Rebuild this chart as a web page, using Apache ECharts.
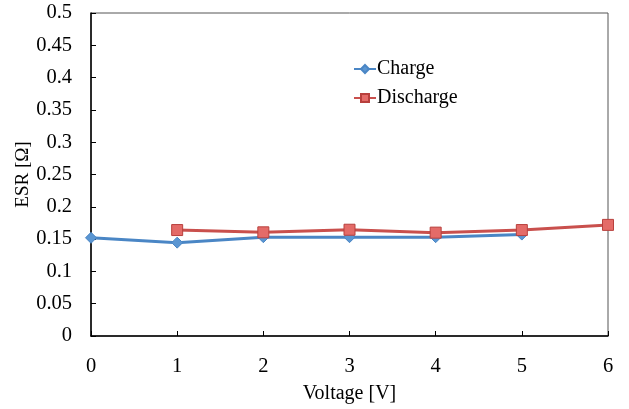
<!DOCTYPE html>
<html>
<head>
<meta charset="utf-8">
<script src="https://cdn.jsdelivr.net/npm/echarts@6/dist/echarts.min.js"></script>
<style>
  html, body { margin: 0; padding: 0; background: #fff; }
  #chart { width: 629px; height: 409px; }
</style>
</head>
<body>
<div id="chart"></div>
<script>
// ESR measured against cell voltage
const voltages = [0, 1, 2, 3, 4, 5, 6];
const chargeEsr = [0.152, 0.1445, 0.153, 0.153, 0.153, 0.157, null];
const dischargeEsr = [null, 0.164, 0.1605, 0.1645, 0.160, 0.164, 0.172];
const yTicks = [0, 0.05, 0.1, 0.15, 0.2, 0.25, 0.3, 0.35, 0.4, 0.45, 0.5];

const pairs = (ys) => voltages.map((x, i) => [x, ys[i]]).filter(p => p[1] !== null);

const font = '"Liberation Serif", "Times New Roman", serif';
const chart = echarts.init(document.getElementById('chart'), null, { renderer: 'canvas' });

chart.setOption({
  animation: false,
  backgroundColor: '#fff',
  textStyle: { fontFamily: font, color: '#000' },
  grid: {
    left: 91, right: 21, top: 13, bottom: 73,
    show: true, borderColor: '#555', borderWidth: 1
  },
  legend: {
    orient: 'vertical',
    left: 348, top: 54,
    itemWidth: 22, itemHeight: 10, itemGap: 9,
    textStyle: { fontFamily: font, fontSize: 20, color: '#000', padding: [0, 0, 0, -4] },
    data: ['Charge', 'Discharge']
  },
  xAxis: {
    type: 'value',
    min: 0, max: 6, interval: 1,
    name: 'Voltage [V]',
    nameLocation: 'middle',
    nameGap: 48,
    nameMoveOverlap: false,
    nameTextStyle: { fontFamily: font, fontSize: 20, color: '#000' },
    axisLine: { lineStyle: { color: '#000', width: 1.5 } },
    axisTick: { inside: true, length: 5, lineStyle: { color: '#000' } },
    axisLabel: { fontFamily: font, fontSize: 20.5, color: '#000', margin: 20 },
    splitLine: { show: false }
  },
  yAxis: {
    type: 'value',
    min: 0, max: 0.5, interval: 0.05,
    name: 'ESR [Ω]',
    nameLocation: 'middle',
    nameGap: 58,
    nameMoveOverlap: false,
    nameRotate: 90,
    nameTextStyle: { fontFamily: font, fontSize: 19, color: '#000' },
    axisLine: { lineStyle: { color: '#000', width: 1.5 } },
    axisTick: { inside: true, length: 5, lineStyle: { color: '#000' } },
    axisLabel: {
      fontFamily: font, fontSize: 20.5, color: '#000', margin: 19,
      formatter: (v) => {
        const t = yTicks.find(t => Math.abs(t - v) < 1e-9);
        return t === undefined ? '' : String(+t.toFixed(2));
      }
    },
    splitLine: { show: false }
  },
  series: [
    {
      name: 'Charge',
      type: 'line',
      data: pairs(chargeEsr),
      symbol: 'diamond',
      symbolSize: 11,
      lineStyle: { color: '#4A86C5', width: 3 },
      itemStyle: { color: '#5B96D2', borderColor: '#4A86C5', borderWidth: 1 },
      z: 2
    },
    {
      name: 'Discharge',
      type: 'line',
      data: pairs(dischargeEsr),
      symbol: 'rect',
      symbolSize: 11,
      lineStyle: { color: '#C9504D', width: 3 },
      itemStyle: { color: '#E46B68', borderColor: '#B8403D', borderWidth: 1 },
      z: 3
    }
  ]
});
</script>
</body>
</html>
